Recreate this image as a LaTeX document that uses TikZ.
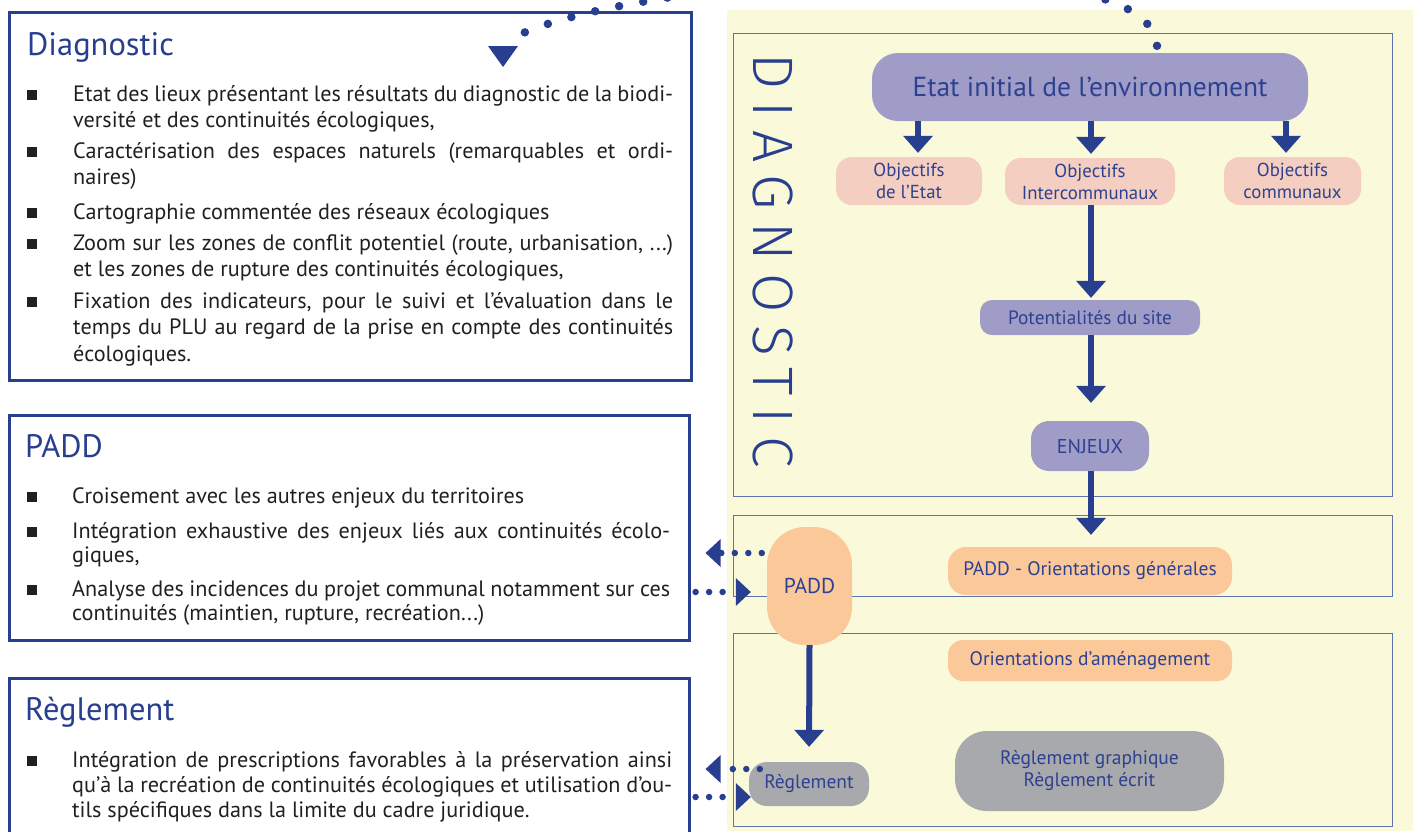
\documentclass[tikz,border=0pt]{standalone}
\usepackage{fontspec}
\setmainfont{PT Sans}
\newfontfamily\diagfont{Fira Sans Light}[LetterSpace=22]
\usetikzlibrary{arrows.meta,calc}
\definecolor{dblue}{RGB}{40,62,142}
\definecolor{nblue}{RGB}{46,65,144}
\definecolor{sectc}{RGB}{95,115,175}
\definecolor{lav}{RGB}{159,157,199}
\definecolor{pinkc}{RGB}{244,206,192}
\definecolor{peach}{RGB}{251,200,154}
\definecolor{grayc}{RGB}{168,169,172}
\definecolor{ylw}{RGB}{250,250,218}
\definecolor{txt}{RGB}{35,31,32}
\newcommand{\jl}[1]{\makebox[\linewidth][s]{#1}\\}
\tikzset{
  lbox/.style={draw=dblue, line width=2.6pt, inner sep=0pt, anchor=north west},
  sect/.style={draw=sectc, line width=1.4pt, inner sep=0pt, anchor=north west},
  ttl/.style={anchor=base west, text=dblue, font=\fontsize{32.5}{38}\selectfont, inner sep=0pt},
  itm/.style={anchor=base west, text=txt, text width=600pt, align=justify, inner sep=0pt},
  bul/.style={fill=txt},
  rnode/.style={text=nblue, inner sep=0pt, align=center},
  bigarr/.style={draw=dblue, line width=6pt, -{Triangle[width=30pt,length=17pt,line width=0pt]}},
  dotl/.style={draw=dblue, line width=6.5pt, line cap=round, dash pattern=on 0pt off 13.5pt},
  dotarr/.style={dotl, -{Triangle[width=28pt,length=15pt,line width=0pt]}},
}
\begin{document}
\begin{tikzpicture}[x=1pt,y=-1pt]
\useasboundingbox (0,0) rectangle (1413,831);
\begin{scope}
\clip (0,0) rectangle (1413,831);
% yellow panel
\fill[ylw] (727,10) rectangle (1413,831);
% right sections
\node[sect, minimum width=659pt, minimum height=463pt] (sdiag) at (733,33) {};
\node[sect, minimum width=659pt, minimum height=81pt] (spadd) at (733,515) {};
\node[sect, minimum width=659pt, minimum height=193pt] (sregl) at (733,633) {};
% left boxes
\node[lbox, minimum width=682pt, minimum height=368pt] (ldiag) at (8,11) {};
\node[lbox, minimum width=680pt, minimum height=225pt] (lpadd) at (8,414) {};
\node[lbox, minimum width=680pt, minimum height=170pt] (lregl) at (8,677) {};

% titles
\node[ttl] (tdiag) at (27,55) {Diagnostic};
\node[ttl] (tpadd) at (25,457) {PADD};
\node[ttl] (tregl) at (25,720) {Règlement};

% Diagnostic items
\begin{scope}[every node/.append style={font=\fontsize{22.2}{26.6}\selectfont}]
\fill[bul] (27,100) rectangle (37,90);
\node[itm] (d1) at (73,101) {\jl{Etat des lieux présentant les résultats du diagnostic de la biodi-}versité  et des continuités écologiques,};
\fill[bul] (27,157) rectangle (37,147);
\node[itm] (d2) at (73,158) {\jl{Caractérisation des espaces naturels (remarquables et ordi-}naires)};
\fill[bul] (27,218) rectangle (37,208);
\node[itm] (d3) at (73,219) {Cartographie commentée des réseaux écologiques};
\fill[bul] (27,249) rectangle (37,239);
\node[itm] (d4) at (73,250) {\jl{Zoom sur les zones de conflit potentiel (route, urbanisation, ...)}et les zones de rupture des continuités écologiques,};
\fill[bul] (27,307) rectangle (37,297);
\node[itm] (d5) at (73,308) {\jl{Fixation des indicateurs, pour le suivi et l’évaluation dans le}\jl{temps du PLU au regard de la prise en compte des continuités}écologiques.};
\end{scope}

% PADD items
\begin{scope}[every node/.append style={font=\fontsize{22.2}{24}\selectfont}]
\fill[bul] (27,502) rectangle (37,492);
\node[itm, text width=598pt] (p1) at (72,503) {Croisement avec les autres enjeux du territoires};
\fill[bul] (27,537) rectangle (37,527);
\node[itm, text width=598pt] (p2) at (72,538) {\jl{Intégration exhaustive des enjeux liés aux continuités écolo-}giques,};
\fill[bul] (27,595) rectangle (37,585);
\node[itm, text width=598pt] (p3) at (72,596) {\jl{Analyse des incidences du projet communal notamment sur ces}continuités (maintien, rupture, recréation...)};
\end{scope}

% Règlement items
\begin{scope}[every node/.append style={font=\fontsize{22.2}{25}\selectfont}]
\fill[bul] (27,766) rectangle (37,756);
\node[itm] (r1) at (72,767) {\jl{Intégration de prescriptions favorables à la préservation ainsi}\jl{qu’à la recréation de continuités écologiques et utilisation d’ou-}tils spécifiques dans la limite du cadre juridique.};
\end{scope}

% vertical DIAGNOSTIC
\node[rotate=-90, anchor=west, inner sep=0pt, text=dblue, font=\diagfont\fontsize{57}{60}\selectfont] (vdiag) at (773,53) {DIAGNOSTIC};

% right nodes
\node[rnode, fill=lav, minimum width=436pt, minimum height=68pt, rounded corners=26pt, font=\fontsize{27.5}{30}\selectfont] (etat) at (1090,87) {Etat initial de l’environnement};
\begin{scope}[every node/.append style={font=\fontsize{18.8}{22}\selectfont}]
\node[rnode, fill=pinkc, minimum width=146pt, minimum height=48pt, rounded corners=16pt] (obj1) at (909,181) {Objectifs\\de l’Etat};
\node[rnode, fill=pinkc, minimum width=170pt, minimum height=47pt, rounded corners=16pt] (obj2) at (1090,181.5) {Objectifs\\Intercommunaux};
\node[rnode, fill=pinkc, minimum width=137pt, minimum height=48pt, rounded corners=16pt] (obj3) at (1292.5,181) {Objectifs\\communaux};
\node[rnode, fill=lav, minimum width=220pt, minimum height=35pt, rounded corners=12pt, font=\fontsize{19.3}{22}\selectfont] (pot) at (1090,317.5) {Potentialités du site};
\node[rnode, fill=lav, minimum width=118pt, minimum height=50pt, rounded corners=18pt, font=\fontsize{20}{22}\selectfont] (enj) at (1090,446) {ENJEUX};
\end{scope}
\begin{scope}[every node/.append style={font=\fontsize{19.5}{22}\selectfont}]
\node[rnode, fill=peach, minimum width=284pt, minimum height=48pt, rounded corners=18pt] (porient) at (1090,571) {PADD - Orientations générales};
\node[rnode, fill=peach, minimum width=284pt, minimum height=41pt, rounded corners=15pt] (oam) at (1090,660.5) {Orientations d’aménagement};
\node[rnode, fill=grayc, minimum width=269pt, minimum height=80pt, rounded corners=32pt] (rge) at (1089.5,771) {Règlement graphique\\Règlement écrit};
\node[rnode, fill=peach, minimum width=85pt, minimum height=118pt, rounded corners=38pt, font=\fontsize{21.5}{24}\selectfont] (padd) at (809.5,586) {PADD};
\node[rnode, fill=grayc, minimum width=120pt, minimum height=44pt, rounded corners=18pt] (regl) at (809,784) {Règlement};
\end{scope}

% big arrows
\draw[bigarr, shorten >=4pt] (etat.south -| 918,0) -- (obj1.north -| 918,0);
\draw[bigarr, shorten >=4pt] (etat.south -| 1091,0) -- (obj2.north -| 1091,0);
\draw[bigarr, shorten >=4pt] (etat.south -| 1286,0) -- (obj3.north -| 1286,0);
\draw[bigarr, shorten >=2pt] (obj2.south -| 1091,0) -- (pot.north -| 1091,0);
\draw[bigarr, shorten >=18pt] (pot.south -| 1091,0) -- (enj.north -| 1091,0);
\draw[bigarr, shorten >=12pt] (enj.south -| 1091,0) -- (porient.north -| 1091,0);
\draw[bigarr, shorten >=15pt] (padd.south) -- (regl.north);

% dotted arrows left
\draw[dotarr] ($(padd.west |- 0,553)+(-5,0)$) -- ($(lpadd.east |- 0,553)+(15,0)$);
\draw[dotarr] ($(lpadd.east |- 0,592)+(5,0)$) -- ($(padd.west |- 0,592)+(-16,0)$);
\draw[dotarr] ($(regl.west |- 0,769)+(11,0)$) -- ($(lregl.east |- 0,769)+(15,0)$);
\draw[dotarr] ($(lregl.east |- 0,797)+(5,0)$) -- ($(regl.west |- 0,797)+(2,0)$);

% top dotted curve
\coordinate (cs) at ($(etat.north -| 1157,0)+(0,-7)$);
\coordinate (ce) at (513,38);
\draw[draw=dblue, line width=8.5pt, line cap=round, dash pattern=on 0pt off 24.5pt] (cs) .. controls (1150,-65) and (620,-20) .. (ce);
\fill[dblue] (488,46) -- (518,46) -- (503,67) -- cycle;
\end{scope}
\end{tikzpicture}
\end{document}
